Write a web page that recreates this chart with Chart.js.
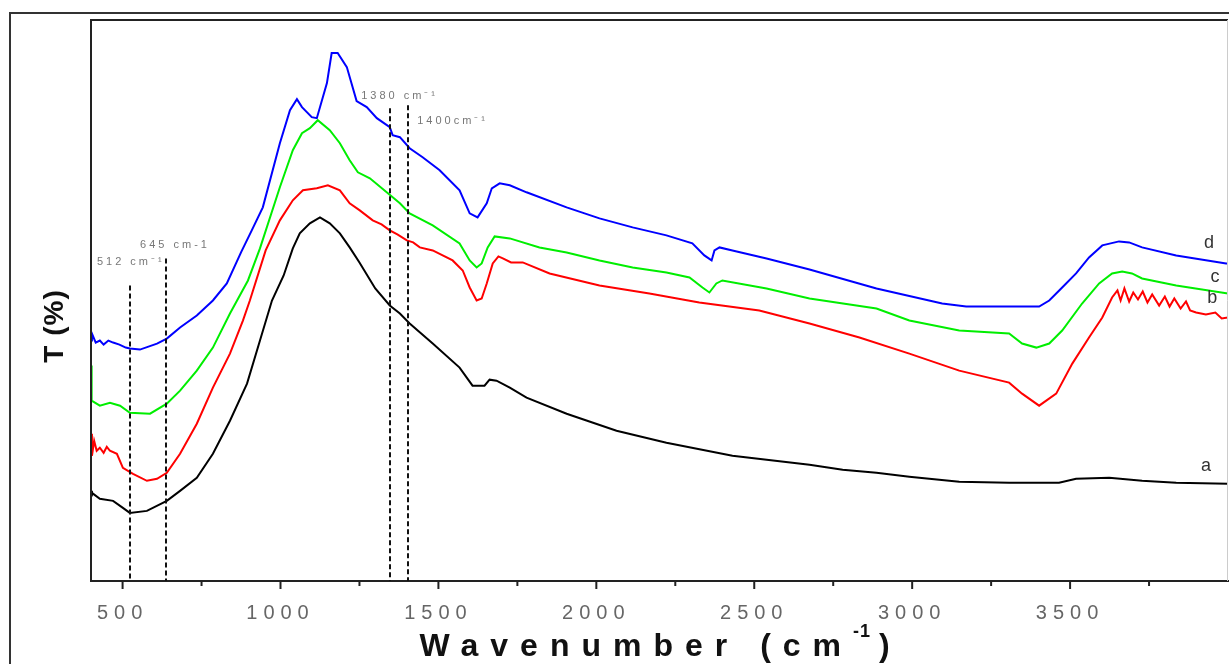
<!DOCTYPE html>
<html>
<head>
<meta charset="utf-8">
<script src="https://cdn.jsdelivr.net/npm/chart.js@4"></script>
<style>
  html, body { margin: 0; padding: 0; background: #fff; }
  #wrap { width: 1229px; height: 664px; }
</style>
</head>
<body>
<div id="wrap"><canvas id="ftir"></canvas></div>
<script>
// 波數 (cm-1) 與穿透率 (相對值) 讀值
const aWn = [400, 403, 428, 470, 501, 523, 577, 640, 682, 735, 786, 840, 894, 935, 973, 1010, 1039, 1061, 1093, 1125, 1156, 1188, 1219, 1250, 1300, 1346, 1378, 1409, 1482, 1567, 1608, 1646, 1662, 1684, 1726, 1779, 1906, 2064, 2222, 2431, 2675, 2780, 2887, 2991, 3149, 3307, 3465, 3519, 3624, 3728, 3836, 4000];
const aT = [90, 88, 82, 80, 73, 68, 70, 80, 90, 103, 127, 160, 197, 240, 280, 305, 332, 347, 357, 363, 357, 347, 333, 318, 292, 275, 267, 257, 237, 213, 195, 195, 201, 200, 193, 183, 167, 150, 138, 125, 116, 111, 108, 104, 99, 98, 98, 102, 103, 100, 98, 97];

const bWn = [400, 403, 410, 418, 428, 440, 450, 460, 482, 501, 533, 577, 609, 640, 682, 735, 786, 840, 881, 903, 953, 998, 1039, 1071, 1115, 1150, 1188, 1219, 1251, 1292, 1320, 1346, 1370, 1400, 1420, 1441, 1482, 1545, 1577, 1599, 1621, 1637, 1653, 1672, 1690, 1704, 1730, 1767, 1852, 2010, 2168, 2326, 2516, 2675, 2833, 2991, 3149, 3307, 3348, 3402, 3456, 3507, 3560, 3602, 3633, 3650, 3660, 3672, 3687, 3700, 3715, 3730, 3745, 3760, 3782, 3800, 3815, 3830, 3850, 3867, 3880, 3899, 3930, 3960, 3980, 4000];
const bT = [147, 125, 140, 130, 133, 128, 134, 130, 127, 113, 107, 100, 102, 108, 127, 157, 193, 227, 260, 280, 330, 360, 380, 390, 392, 395, 390, 377, 370, 360, 356, 350, 346, 340, 338, 333, 330, 320, 310, 293, 280, 282, 297, 317, 324, 322, 318, 318, 307, 295, 287, 278, 270, 257, 243, 227, 210, 198, 187, 175, 187, 217, 243, 263, 283, 290, 280, 292, 279, 288, 281, 289, 278, 286, 275, 284, 274, 282, 272, 279, 270, 268, 266, 268, 262, 263];

const cWn = [400, 401, 403, 428, 460, 492, 523, 587, 640, 682, 735, 786, 840, 897, 935, 998, 1039, 1068, 1093, 1118, 1156, 1188, 1219, 1245, 1283, 1340, 1378, 1409, 1482, 1567, 1599, 1621, 1637, 1656, 1678, 1726, 1820, 1906, 2010, 2115, 2222, 2295, 2336, 2358, 2380, 2399, 2539, 2675, 2887, 2991, 3149, 3307, 3348, 3393, 3434, 3475, 3538, 3592, 3633, 3665, 3696, 3728, 3836, 4000];
const cT = [215, 200, 180, 175, 178, 175, 168, 167, 177, 190, 210, 233, 267, 300, 332, 393, 430, 447, 452, 460, 450, 437, 420, 408, 402, 387, 377, 367, 355, 337, 320, 313, 317, 333, 344, 342, 333, 328, 320, 313, 308, 303, 293, 288, 297, 300, 292, 282, 272, 260, 250, 247, 237, 233, 237, 250, 277, 297, 307, 309, 307, 302, 295, 287];

const dWn = [400, 403, 415, 428, 440, 455, 470, 490, 510, 523, 555, 609, 640, 682, 735, 786, 830, 875, 909, 944, 998, 1030, 1052, 1068, 1099, 1115, 1147, 1162, 1181, 1210, 1241, 1273, 1305, 1346, 1355, 1378, 1409, 1450, 1504, 1567, 1599, 1624, 1653, 1669, 1694, 1726, 1779, 1906, 2010, 2115, 2222, 2304, 2342, 2365, 2374, 2390, 2431, 2539, 2675, 2887, 3095, 3171, 3402, 3434, 3475, 3519, 3560, 3602, 3655, 3687, 3728, 3836, 3994, 4000];
const dT = [240, 247, 238, 240, 236, 240, 238, 236, 233, 232, 231, 237, 242, 253, 265, 280, 297, 328, 350, 373, 437, 470, 481, 473, 463, 462, 497, 527, 527, 513, 479, 473, 462, 453, 445, 443, 432, 423, 410, 390, 367, 363, 377, 392, 397, 395, 388, 373, 362, 353, 345, 337, 325, 320, 330, 333, 330, 322, 311, 292, 277, 274, 274, 280, 293, 307, 323, 335, 339, 338, 333, 325, 317, 317];

// 刻度
const majorTicks = [500, 1000, 1500, 2000, 2500, 3000, 3500];
const minorTicks = [750, 1250, 1750, 2250, 2750, 3250, 3750];

// 虛線標記
const markWn = [523, 637, 1346, 1403];
const markTop = [295, 322, 472, 475];
const markText = ["512 cm⁻¹", "645 cm-1", "1380 cm⁻¹", "1400cm⁻¹"];
const markLabelWn = [526, 666, 1377, 1545];
const markLabelT = [318, 335, 484, 459];

// 曲線名稱
const curveNames = ["a", "b", "c", "d"];
const nameWn = [3930, 3950, 3959, 3940];
const nameT = [115, 282, 303, 337];

const toPoints = (wn, t) => wn.map((w, i) => ({ x: w, y: t[i] }));

const ftirPlugin = {
  id: "ftirDecor",
  beforeDraw(chart) {
    const { ctx } = chart;
    // 外框
    ctx.save();
    ctx.strokeStyle = "#333";
    ctx.lineWidth = 2;
    ctx.beginPath();
    ctx.moveTo(10, 664);
    ctx.lineTo(10, 13);
    ctx.lineTo(1229, 13);
    ctx.stroke();
    ctx.restore();
    // 刻度文字加寬字距
    ctx.letterSpacing = "6px";
  },
  beforeDatasetsDraw(chart) {
    chart.ctx.letterSpacing = "0px";
  },
  afterDraw(chart) {
    const { ctx, chartArea: ca, scales: { x, y } } = chart;
    ctx.save();
    ctx.lineWidth = 2;
    ctx.strokeStyle = "#222";
    ctx.beginPath();
    ctx.moveTo(ca.left, ca.bottom);
    ctx.lineTo(ca.left, ca.top);
    ctx.lineTo(ca.right, ca.top);
    ctx.stroke();
    ctx.strokeStyle = "#ccc";
    ctx.lineWidth = 1;
    ctx.beginPath();
    ctx.moveTo(ca.right - 0.5, ca.top);
    ctx.lineTo(ca.right - 0.5, ca.bottom);
    ctx.stroke();

    // 刻度線
    ctx.strokeStyle = "#222";
    ctx.lineWidth = 2;
    majorTicks.forEach((v) => {
      const px = x.getPixelForValue(v);
      ctx.beginPath();
      ctx.moveTo(px, ca.bottom);
      ctx.lineTo(px, ca.bottom + 8);
      ctx.stroke();
    });
    minorTicks.forEach((v) => {
      const px = x.getPixelForValue(v);
      ctx.beginPath();
      ctx.moveTo(px, ca.bottom);
      ctx.lineTo(px, ca.bottom + 5);
      ctx.stroke();
    });

    // 虛線
    ctx.strokeStyle = "#111";
    ctx.setLineDash([5, 3]);
    markWn.forEach((w, i) => {
      const px = Math.round(x.getPixelForValue(w));
      ctx.beginPath();
      ctx.moveTo(px, y.getPixelForValue(markTop[i]));
      ctx.lineTo(px, ca.bottom);
      ctx.stroke();
    });
    ctx.setLineDash([]);

    // 虛線標籤
    ctx.fillStyle = "#777";
    ctx.font = "11px Arial, 'Liberation Sans', sans-serif";
    ctx.letterSpacing = "3px";
    ctx.textAlign = "center";
    ctx.textBaseline = "middle";
    markText.forEach((t, i) => {
      ctx.fillText(t, x.getPixelForValue(markLabelWn[i]), y.getPixelForValue(markLabelT[i]));
    });

    // 曲線名稱
    ctx.fillStyle = "#333";
    ctx.font = "18px Arial, 'Liberation Sans', sans-serif";
    ctx.letterSpacing = "0px";
    curveNames.forEach((n, i) => {
      ctx.fillText(n, x.getPixelForValue(nameWn[i]), y.getPixelForValue(nameT[i]));
    });

    // X 軸標題
    ctx.fillStyle = "#111";
    ctx.textAlign = "left";
    ctx.textBaseline = "alphabetic";
    ctx.font = "bold 32px Arial, 'Liberation Sans', sans-serif";
    ctx.letterSpacing = "12px";
    const main = "Wavenumber (cm";
    const w1 = ctx.measureText(main).width;
    const cx = (ca.left + ca.right) / 2;
    const startX = cx - 240;
    ctx.fillText(main, startX, 656);
    ctx.font = "bold 18px Arial, 'Liberation Sans', sans-serif";
    ctx.letterSpacing = "1px";
    ctx.fillText("-1", startX + w1, 637);
    const w2 = ctx.measureText("-1").width;
    ctx.font = "bold 32px Arial, 'Liberation Sans', sans-serif";
    ctx.fillText(")", startX + w1 + w2 + 8, 656);

    // Y 軸標題
    ctx.translate(55, 326);
    ctx.rotate(-Math.PI / 2);
    ctx.textAlign = "center";
    ctx.textBaseline = "middle";
    ctx.font = "bold 28px Arial, 'Liberation Sans', sans-serif";
    ctx.letterSpacing = "1px";
    ctx.fillText("T (%)", 0, 0);
    ctx.restore();
  },
};

const lineSet = (label, wn, t, color) => ({
  label,
  data: toPoints(wn, t),
  borderColor: color,
  backgroundColor: color,
  borderWidth: 2,
  pointRadius: 0,
  tension: 0,
  fill: false,
});

new Chart(document.getElementById("ftir"), {
  type: "line",
  data: {
    datasets: [
      lineSet("a", aWn, aT, "#000000"),
      lineSet("b", bWn, bT, "#ff0000"),
      lineSet("c", cWn, cT, "#00ee00"),
      lineSet("d", dWn, dT, "#0000ff"),
    ],
  },
  options: {
    responsive: true,
    maintainAspectRatio: false,
    animation: false,
    layout: { padding: { left: 91, top: 20, right: 1, bottom: 27 } },
    plugins: { legend: { display: false }, tooltip: { enabled: false } },
    scales: {
      x: {
        type: "linear",
        min: 400,
        max: 4000,
        afterBuildTicks: (scale) => {
          scale.ticks = majorTicks.map((v) => ({ value: v }));
        },
        grid: { display: false },
        border: { display: true, color: "#222", width: 2 },
        ticks: {
          color: "#666",
          font: { size: 20, family: "Arial, 'Liberation Sans', sans-serif" },
          padding: 12,
          maxRotation: 0,
          autoSkip: false,
          callback: (v) => String(v),
        },
      },
      y: {
        display: false,
        min: 0,
        max: 560,
      },
    },
  },
  plugins: [ftirPlugin],
});
</script>
</body>
</html>
